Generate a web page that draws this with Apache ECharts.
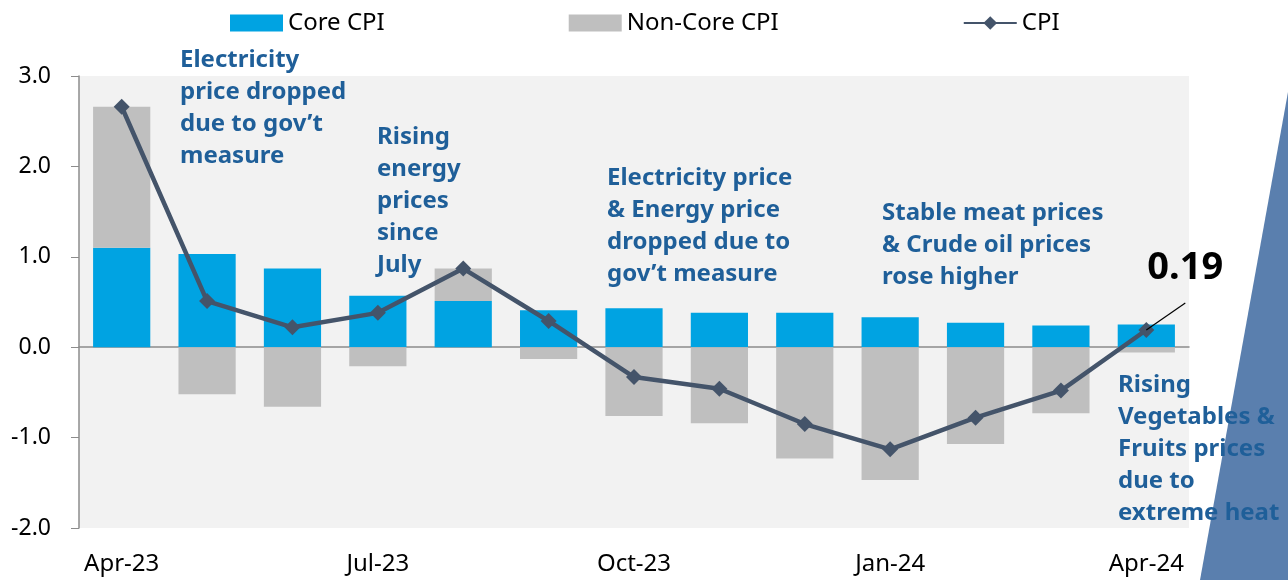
<!DOCTYPE html>
<html>
<head>
<meta charset="utf-8">
<script src="https://cdn.jsdelivr.net/npm/echarts@6/dist/echarts.min.js"></script>
<style>
    html, body { margin: 0; padding: 0; background: #fff; }
    #chart { width: 1288px; height: 580px; }
</style>
</head>
<body>
<div id="chart"></div>
<script>
    // monthly data, Apr-23 .. Apr-24
    const months = ['Apr-23', 'May-23', 'Jun-23', 'Jul-23', 'Aug-23', 'Sep-23', 'Oct-23',
        'Nov-23', 'Dec-23', 'Jan-24', 'Feb-24', 'Mar-24', 'Apr-24']
    const coreCpi = [1.10, 1.03, 0.87, 0.57, 0.51, 0.41, 0.43, 0.38, 0.38, 0.33, 0.27, 0.24, 0.25]
    const nonCoreCpi = [1.56, -0.52, -0.66, -0.21, 0.36, -0.13, -0.76, -0.84, -1.23, -1.47, -1.07, -0.73, -0.06]
    const cpi = [2.66, 0.51, 0.22, 0.38, 0.87, 0.29, -0.33, -0.46, -0.85, -1.13, -0.78, -0.48, 0.19]
    const yTicks = [-2, -1, 0, 1, 2, 3]

    const font = 'Noto Sans'
    const noteColor = '#1f5f99'
    const notes = [
        {x: 180, y: 44, text: 'Electricity\nprice dropped\ndue to gov’t\nmeasure'},
        {x: 377, y: 121, text: 'Rising\nenergy\nprices\nsince\nJuly'},
        {x: 607, y: 162, text: 'Electricity price\n& Energy price\ndropped due to\ngov’t measure'},
        {x: 882, y: 197, text: 'Stable meat prices\n& Crude oil prices\nrose higher'},
        {x: 1118, y: 369, text: 'Rising\nVegetables &\nFruits prices\ndue to\nextreme heat'}
    ]

    let myChart = echarts.init(document.getElementById('chart'))
    let option = {
        animation: false,
        textStyle: {fontFamily: font},
        legend: {
            left: 225,
            top: 6,
            itemWidth: 53,
            itemHeight: 17,
            itemGap: 184,
            textStyle: {fontSize: 24, color: '#000', fontFamily: font},
            data: [
                {name: 'Core CPI', icon: 'rect'},
                {name: 'Non-Core CPI', icon: 'rect'},
                {name: 'CPI'}
            ]
        },
        grid: {
            left: 79,
            right: 99,
            top: 76,
            bottom: 52,
            show: true,
            backgroundColor: '#f2f2f2',
            borderWidth: 0
        },
        xAxis: [
            {
                // labels along the bottom
                type: 'category',
                data: months,
                axisLine: {show: false, onZero: false},
                axisTick: {show: false},
                axisLabel: {
                    interval: 2,
                    fontSize: 24,
                    color: '#000',
                    margin: 24
                }
            },
            {
                // zero line with ticks
                type: 'category',
                position: 'bottom',
                data: months,
                axisLine: {onZero: true, lineStyle: {color: '#8c8c8c', width: 1.5}},
                axisTick: {interval: 2, length: 8, lineStyle: {color: '#8c8c8c'}},
                axisLabel: {show: false}
            }
        ],
        yAxis: {
            type: 'value',
            min: yTicks[0],
            max: yTicks[yTicks.length - 1],
            interval: 1,
            axisLine: {show: true, lineStyle: {color: '#8c8c8c', width: 1.5}},
            axisTick: {show: true, length: 8, lineStyle: {color: '#8c8c8c'}},
            splitLine: {show: false},
            axisLabel: {
                fontSize: 23,
                color: '#000',
                margin: 28,
                formatter: v => v.toFixed(1)
            }
        },
        series: [
            {
                name: 'Core CPI',
                type: 'bar',
                stack: 'cpi',
                barCategoryGap: '33%',
                itemStyle: {color: '#00a3e2'},
                data: coreCpi
            },
            {
                name: 'Non-Core CPI',
                type: 'bar',
                stack: 'cpi',
                itemStyle: {color: '#bfbfbf'},
                data: nonCoreCpi
            },
            {
                name: 'CPI',
                type: 'line',
                symbol: 'diamond',
                symbolSize: 16,
                z: 5,
                lineStyle: {color: '#44546a', width: 4.5},
                itemStyle: {color: '#44546a'},
                data: cpi
            }
        ]
    }
    myChart.setOption(option)

    // annotations, slanted decoration and the 0.19 callout
    let last = cpi.length - 1
    let p = myChart.convertToPixel({seriesIndex: 2}, [last, cpi[last]])
    let graphics = [
        {
            type: 'polygon',
            z: 1,
            shape: {points: [[1200, 580], [1288, 92], [1288, 580]]},
            style: {fill: '#5a7fae'}
        },
        {
            type: 'line',
            z: 10,
            shape: {x1: p[0], y1: p[1], x2: p[0] + 39, y2: p[1] - 27},
            style: {stroke: '#000', lineWidth: 1.2}
        },
        {
            type: 'text',
            z: 10,
            left: p[0] + 1,
            top: p[1] - 81,
            style: {text: cpi[last].toFixed(2), fontSize: 38, fontWeight: 'bold', fontFamily: font, fill: '#000'}
        }
    ]
    notes.forEach(n => {
        graphics.push({
            type: 'text',
            z: 10,
            left: n.x,
            top: n.y,
            style: {
                text: n.text,
                fontSize: 24,
                fontWeight: 'bold',
                fontFamily: font,
                lineHeight: 32,
                fill: noteColor
            }
        })
    })
    myChart.setOption({graphic: graphics})
</script>
</body>
</html>
